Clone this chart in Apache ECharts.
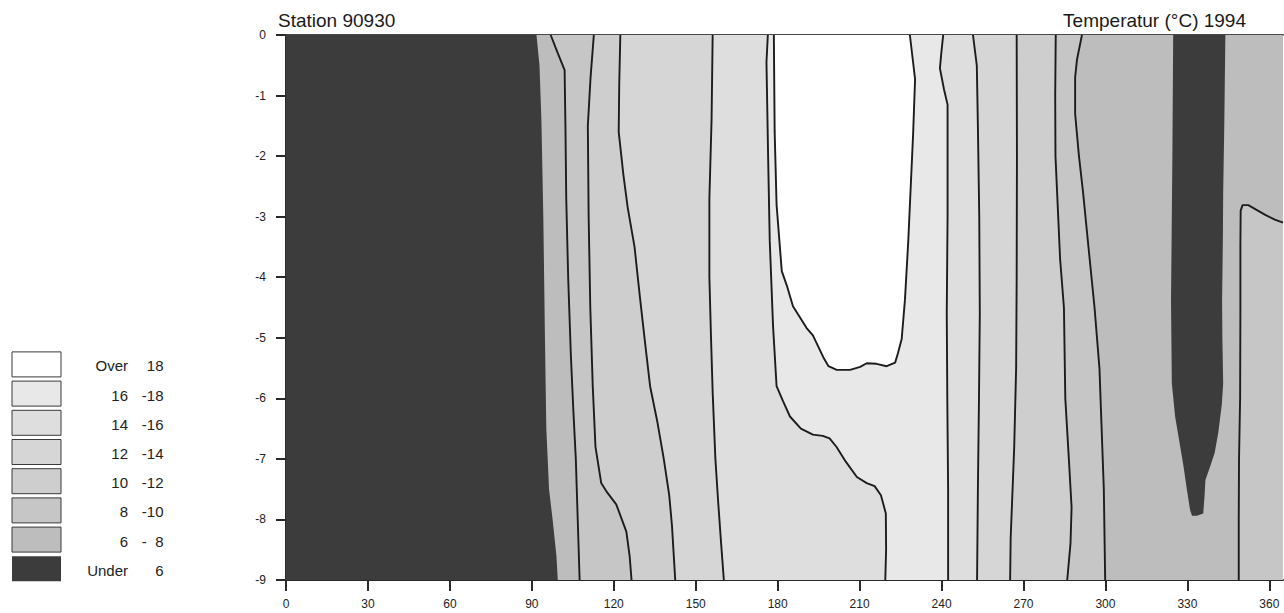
<!DOCTYPE html>
<html><head><meta charset="utf-8">
<script src="https://cdn.jsdelivr.net/npm/echarts@6/dist/echarts.min.js"></script>
<style>html,body{margin:0;padding:0;background:#fff}#c{width:1284px;height:613px}</style>
</head><body><div id="c"></div>
<script>
// ---- axis ticks ----
const xTicks = [0, 30, 60, 90, 120, 150, 180, 210, 240, 270, 300, 330, 360];
const yMin = -9, yMax = 0, xMin = 0, xMax = 365;

// ---- temperature bands (legend) ----
const bandNames = ['Under 6', '6 - 8', '8 - 10', '10 - 12', '12 - 14', '14 - 16', '16 - 18', 'Over 18'];
const bandColors = ['#3c3c3c', '#bdbdbd', '#c6c6c6', '#cecece', '#d6d6d6', '#dedede', '#e8e8e8', '#ffffff'];
const legendLeft = ['Over', '16', '14', '12', '10', '8', '6', 'Under'];
const legendRight = ['18', '-18', '-16', '-14', '-12', '-10', '-  8', '6'];

// ---- contour lines [day, depth] ----
const c6a = [[91.7,0],[92.8,-0.5],[93.5,-1.4],[94.2,-3],[94.8,-5],[95.3,-6.5],[96.3,-7.5],[97.6,-8],[99,-8.6],[99.5,-9]];
const c8a = [[96.9,0],[99.5,-0.3],[102,-0.58],[102.3,-1.5],[102.6,-2.7],[103.3,-4],[104.3,-5.3],[105.2,-6.2],[106.1,-7],[106.8,-8],[107.5,-9]];
const c10a = [[112.7,0],[111.5,-0.7],[110.5,-1.5],[110.8,-3],[111.4,-4.5],[112.3,-5.8],[113.3,-6.8],[115.4,-7.4],[117.5,-7.55],[120.9,-7.75],[124.6,-8.2],[125.8,-8.6],[126.5,-9]];
const c12a = [[122.4,0],[122.0,-0.8],[121.8,-1.6],[123.5,-2.3],[125.1,-2.85],[127.6,-3.5],[129.5,-4.3],[131.5,-5.1],[133.3,-5.8],[136,-6.4],[138.3,-7],[140.3,-7.6],[141.3,-8.1],[142.5,-9]];
const c14a = [[156.2,0],[155.8,-1.4],[155.0,-2.7],[155.0,-4],[155.6,-5],[156.2,-5.9],[157.2,-7],[158.2,-7.7],[159.3,-8.4],[160.3,-9]];
const c16a = [[176.4,0],[175.9,-0.45],[176.5,-2],[177.1,-3.4],[178.3,-4.8],[179.6,-5.8],[182,-6.05],[184.5,-6.3],[188.5,-6.5],[192.9,-6.6],[196.5,-6.62],[199,-6.66],[201.5,-6.8],[205,-7.05],[209,-7.3],[212.6,-7.4],[215.5,-7.45],[217.8,-7.6],[219.6,-7.9],[219.7,-8.5],[219.4,-9]];
const c18 = [[178.6,0],[178.9,-1.6],[179.6,-2.8],[181.5,-3.9],[183.3,-4.13],[185.6,-4.48],[190.6,-4.84],[192.9,-4.96],[196.7,-5.32],[198.6,-5.47],[201.6,-5.53],[206.5,-5.53],[210.2,-5.48],[212.6,-5.42],[216.2,-5.43],[219.9,-5.47],[223,-5.41],[224,-5.26],[225.4,-5.02],[226.6,-4.37],[227.8,-3.41],[229.6,-1.62],[230.3,-0.73],[228.4,0]];
const c16b = [[240.6,0],[239.9,-0.3],[239.4,-0.55],[240.9,-0.9],[242.2,-1.15],[242.2,-3],[241.9,-4.6],[242.1,-6],[242.4,-7.5],[242.4,-9]];
const c14b = [[251.5,0],[252.9,-0.5],[253.3,-1.5],[253.8,-3],[254.0,-4.6],[253.7,-6],[253.3,-7.5],[253.0,-9]];
const c12b = [[267.5,0],[267.6,-2],[267.5,-4],[267.3,-5.5],[266.6,-6.8],[266.0,-7.5],[265.3,-8.3],[265.1,-9]];
const c10b = [[281.8,0],[281.6,-1],[281.7,-2],[283.4,-3.7],[284.8,-4.5],[285.3,-6],[286.6,-7],[287.6,-7.8],[287.2,-8.4],[286.0,-9]];
const c8b = [[291.4,0],[289.6,-0.4],[288.9,-0.7],[288.9,-1.3],[290.3,-2],[291.8,-2.6],[294.0,-3.6],[296.0,-4.5],[297.8,-5.5],[298.6,-6.5],[299.4,-7.5],[299.9,-9]];
const c6b = [[324.8,0],[324.5,-2],[324.0,-4.4],[324.3,-5.75],[325.5,-6.3],[327,-6.7],[328.5,-7.1],[329.8,-7.5],[331.0,-7.85],[331.7,-7.94],[333.5,-7.94],[335.8,-7.9],[336.3,-7.6],[336.6,-7.35],[338.3,-7.13],[340,-6.9],[341.3,-6.57],[342.6,-6.1],[343.1,-5.75],[342.8,-5],[342.7,-4.4],[343.0,-3.3],[343.1,-2.6],[343.5,-1.5],[343.9,0]];
const c8c = [[348.8,-9],[348.8,-8],[348.9,-7],[349.3,-6],[349.4,-4.6],[349.4,-3.5],[349.5,-2.9],[350.2,-2.81],[352.3,-2.81],[355,-2.88],[358.5,-2.97],[362,-3.05],[365,-3.1]];

// ---- build filled regions (painter's order) ----
function rightOf(line) { return line.concat([[xMax, yMin], [xMax, yMax]]); }
const regions = [
  { poly: [[xMin, yMax], [xMax, yMax], [xMax, yMin], [xMin, yMin]], band: 0 },
  { poly: rightOf(c6a), band: 1 },
  { poly: rightOf(c8a), band: 2 },
  { poly: rightOf(c10a), band: 3 },
  { poly: rightOf(c12a), band: 4 },
  { poly: rightOf(c14a), band: 5 },
  { poly: rightOf(c16a), band: 6 },
  { poly: c18, band: 7 },
  { poly: rightOf(c16b), band: 5 },
  { poly: rightOf(c14b), band: 4 },
  { poly: rightOf(c12b), band: 3 },
  { poly: rightOf(c10b), band: 2 },
  { poly: rightOf(c8b), band: 1 },
  { poly: c6b, band: 0 },
  { poly: c8c.concat([[xMax, yMin]]), band: 2 }
];
const drawnLines = [c8a, c10a, c12a, c14a, c16a, c18, c16b, c14b, c12b, c10b, c8b, c8c];

const FONT = '"Liberation Sans", Arial, Helvetica, sans-serif';
const chart = echarts.init(document.getElementById('c'), null, { renderer: 'svg' });

const series = [{
  type: 'custom',
  silent: true,
  clip: true,
  z: 1,
  data: regions.map((r, i) => [i, -1]),
  encode: { x: 0, y: 1 },
  renderItem: function (params, api) {
    const r = regions[params.dataIndex];
    return {
      type: 'polygon',
      shape: { points: r.poly.map(p => api.coord(p)) },
      style: { fill: bandColors[r.band], stroke: null }
    };
  }
}];
drawnLines.forEach(l => series.push({
  type: 'line', data: l, symbol: 'none', showSymbol: false, silent: true, z: 3,
  lineStyle: { color: '#1c1c1c', width: 1.9 }
}));

// legend graphics
const graphic = [];
for (let i = 0; i < 8; i++) {
  const cy = 364.4 + i * 29.2;
  const b = 7 - i;
  graphic.push({
    type: 'rect', silent: true,
    shape: { x: 12, y: cy - 12.5, width: 49, height: 25 },
    style: { fill: bandColors[b], stroke: b === 0 ? null : '#3a3a3a', lineWidth: 1 }
  });
  graphic.push({
    type: 'text', silent: true, x: 128, y: cy + 1.5,
    style: { text: legendLeft[i], align: 'right', verticalAlign: 'middle', fontSize: 15, fontFamily: FONT, fill: '#222' }
  });
  graphic.push({
    type: 'text', silent: true, x: 163.5, y: cy + 1.5,
    style: { text: legendRight[i], align: 'right', verticalAlign: 'middle', fontSize: 15, fontFamily: FONT, fill: '#222' }
  });
}

chart.setOption({
  animation: false,
  backgroundColor: '#ffffff',
  title: [
    { text: 'Station 90930', left: 278, top: 11, padding: 0, textStyle: { fontSize: 19, fontWeight: 'normal', fontFamily: FONT, color: '#1a1a1a' } },
    { text: 'Temperatur (°C) 1994', right: 38, top: 11, padding: 0, textStyle: { fontSize: 19, fontWeight: 'normal', fontFamily: FONT, color: '#1a1a1a' } }
  ],
  grid: { left: 286, right: 1, top: 35, bottom: 33, containLabel: false },
  xAxis: [{
    type: 'value', min: xMin, max: xMax, position: 'bottom',
    axisLine: { show: true, onZero: false, lineStyle: { color: '#2a2a2a', width: 2 } },
    axisTick: { show: true, length: 11, customValues: xTicks, lineStyle: { color: '#2a2a2a', width: 2 } },
    axisLabel: { customValues: xTicks, margin: 18, fontSize: 12, color: '#222', fontFamily: FONT },
    splitLine: { show: false }
  }, {
    type: 'value', min: xMin, max: xMax, position: 'top',
    axisLine: { show: true, onZero: false, lineStyle: { color: '#4a4a4a', width: 2 } },
    axisTick: { show: false }, axisLabel: { show: false }, splitLine: { show: false }
  }],
  yAxis: {
    type: 'value', min: yMin, max: yMax, interval: 1,
    axisLine: { show: true, onZero: false, lineStyle: { color: '#2a2a2a', width: 2 } },
    axisTick: { show: true, length: 10, lineStyle: { color: '#2a2a2a', width: 2 } },
    axisLabel: { margin: 20, fontSize: 12, color: '#222', fontFamily: FONT },
    splitLine: { show: false }
  },
  graphic: graphic,
  series: series
});
</script></body></html>
